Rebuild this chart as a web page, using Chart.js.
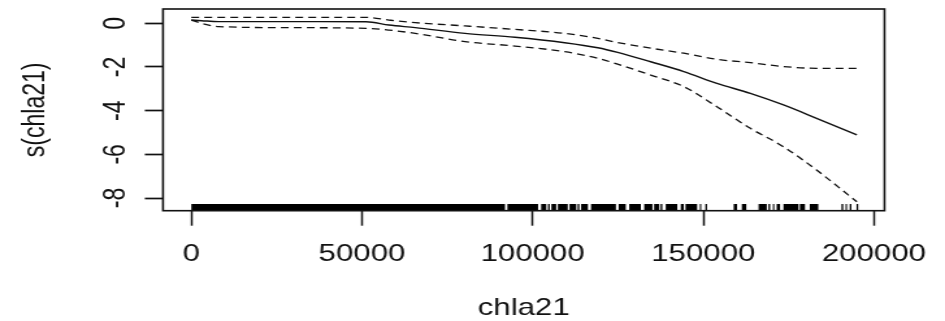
<!DOCTYPE html>
<html>
<head>
<meta charset="utf-8">
<script src="https://cdn.jsdelivr.net/npm/chart.js@4/dist/chart.umd.min.js"></script>
<style>
  html, body { margin: 0; padding: 0; background: #fff; }
</style>
</head>
<body>
<!-- the R device was stretched sideways, so the canvas is drawn narrow and widened by its inline style -->
<canvas id="gam" width="727" height="321" style="display:block;width:945px;height:321px"></canvas>
<script>
const chla21 = [0, 3000, 8000, 30000, 51200, 57900, 65600, 80200, 94800, 109400,
  119100, 124900, 134600, 144300, 154000, 163800, 173500, 183200, 195000];
// s(chla21) estimate and the two dashed +/- 2 se lines
const smooth = [0.15, 0.12, 0.075, 0.075, 0.07, -0.08, -0.2, -0.46, -0.64, -0.89,
  -1.12, -1.33, -1.76, -2.21, -2.75, -3.21, -3.74, -4.35, -5.11];
const upperSe = [0.27, 0.27, 0.27, 0.27, 0.27, 0.15, 0.03, -0.12, -0.28, -0.46,
  -0.69, -0.88, -1.14, -1.37, -1.65, -1.8, -1.98, -2.06, -2.06];
const lowerSe = [0.15, 0.0, -0.15, -0.2, -0.23, -0.31, -0.46, -0.84, -1.04, -1.3,
  -1.6, -1.87, -2.37, -2.9, -3.82, -4.81, -5.65, -6.72, -8.17];
// rug along the x axis: stretches of chla21 covered by observations
const rugRanges = [
  [0, 91900], [92600, 101600], [102500, 104000], [104500, 105000], [105500, 106900],
  [107400, 110300], [110800, 112800], [113200, 113700], [114200, 116200], [117100, 124400],
  [125200, 127300], [128300, 131700], [132700, 135100], [135600, 137100], [137500, 138000],
  [139000, 142400], [143400, 144300], [144800, 148200], [149000, 149400], [150600, 151100],
  [158900, 159900], [161300, 162600], [166200, 168600], [169100, 169600], [170400, 170800],
  [171500, 172500], [173500, 177900], [178300, 179800], [181200, 183700], [190500, 191000],
  [191700, 192100], [192900, 193400], [194900, 195400]
];
const xTicks = [0, 50000, 100000, 150000, 200000];
const yTicks = [0, -2, -4, -6, -8];

const RUG_Y = -8.43;
const INK = '#111';
const FONT = '"Liberation Sans", Arial, sans-serif';

const pts = ys => chla21.map((x, i) => ({ x: x, y: ys[i] }));
const rugPts = [];
rugRanges.forEach(([a, b]) => {
  rugPts.push({ x: a, y: RUG_Y }, { x: b, y: RUG_Y }, { x: b, y: null });
});

// box round the panel and the upright y tick labels, as R draws them
const rFrame = {
  id: 'rFrame',
  afterDraw(chart) {
    const { ctx, chartArea: a, scales: { y } } = chart;
    ctx.save();
    ctx.strokeStyle = INK;
    ctx.lineWidth = 1.6;
    ctx.strokeRect(a.left, a.top, a.right - a.left, a.bottom - a.top);
    ctx.fillStyle = INK;
    ctx.font = '23px ' + FONT;
    ctx.textAlign = 'center';
    ctx.textBaseline = 'alphabetic';
    y.ticks.forEach(t => {
      ctx.save();
      ctx.translate(a.left - 29, y.getPixelForValue(t.value));
      ctx.rotate(-Math.PI / 2);
      ctx.fillText(String(t.value), 0, 0);
      ctx.restore();
    });
    ctx.restore();
  }
};

const lineBase = {
  pointRadius: 0,
  borderColor: INK,
  cubicInterpolationMode: 'monotone',
  fill: false
};

const gamConfig = {
  type: 'line',
  data: {
    datasets: [
      Object.assign({ label: 's(chla21)', data: pts(smooth), borderWidth: 1.4 }, lineBase),
      Object.assign({ label: '+2 se', data: pts(upperSe), borderWidth: 1.3, borderDash: [6, 4] }, lineBase),
      Object.assign({ label: '-2 se', data: pts(lowerSe), borderWidth: 1.3, borderDash: [6, 4] }, lineBase),
      {
        label: 'rug',
        data: rugPts,
        borderColor: '#000',
        borderWidth: 6.6,
        borderCapStyle: 'butt',
        pointRadius: 0,
        spanGaps: false,
        fill: false
      }
    ]
  },
  options: {
    responsive: false,
    animation: false,
    layout: { padding: { top: 9, right: 44, left: 0, bottom: 0 } },
    plugins: { legend: { display: false }, tooltip: { enabled: false } },
    scales: {
      x: {
        type: 'linear',
        min: -8300,
        max: 203100,
        afterBuildTicks: s => { s.ticks = xTicks.map(v => ({ value: v })); },
        afterFit: s => { s.height = 110.3; },
        border: { display: false },
        grid: { drawOnChartArea: false, tickLength: 15, tickWidth: 1.5, tickColor: INK },
        ticks: {
          padding: 14,
          maxRotation: 0,
          color: INK,
          font: { family: FONT, size: 24 },
          callback: v => String(v)
        },
        title: {
          display: true,
          text: 'chla21',
          color: INK,
          font: { family: FONT, size: 24, lineHeight: 1.05 },
          padding: { top: 0, bottom: 0 }
        }
      },
      y: {
        type: 'linear',
        min: -8.58,
        max: 0.655,
        afterBuildTicks: s => { s.ticks = yTicks.map(v => ({ value: v })); },
        afterFit: s => { s.width = 125.4; },
        border: { display: false },
        grid: { drawOnChartArea: false, tickLength: 14, tickWidth: 1.7, tickColor: INK },
        ticks: { display: false },
        title: {
          display: true,
          text: 's(chla21)',
          color: INK,
          font: { family: FONT, size: 23, lineHeight: 1.05 },
          padding: { top: 16, bottom: 0 }
        }
      }
    }
  },
  plugins: [rFrame]
};

const gamCtx = document.getElementById('gam');
window.gamChart = new Chart(gamCtx, gamConfig);
</script>
</body>
</html>
